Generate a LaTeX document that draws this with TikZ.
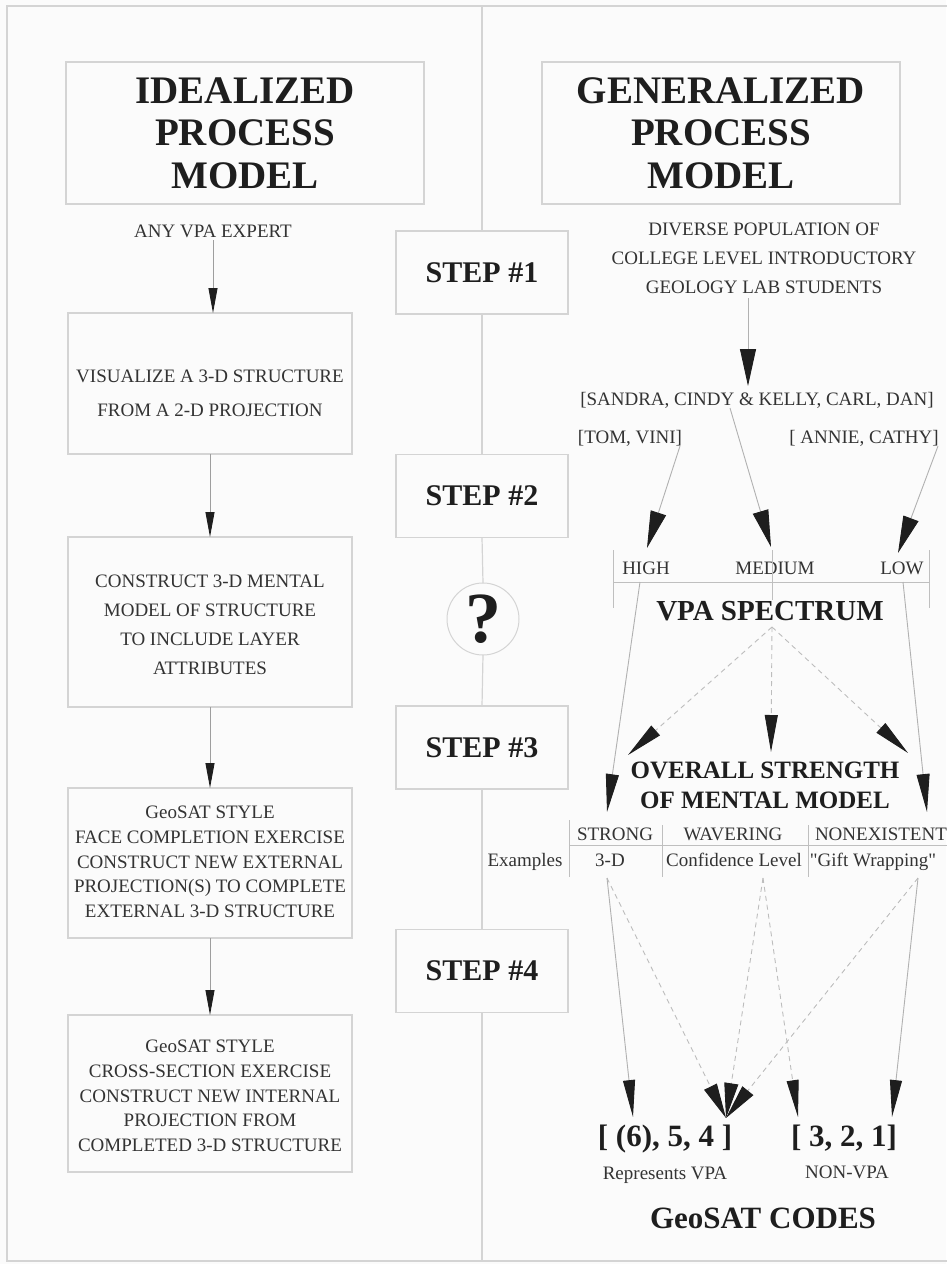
\documentclass[tikz,border=0pt]{standalone}
\usepackage{fontspec}
\setmainfont{Liberation Serif}[Ligatures=TeXOff]
\usetikzlibrary{arrows.meta}
\definecolor{ink}{HTML}{333333}
\definecolor{heavy}{HTML}{1E1E1E}
\definecolor{rule}{HTML}{D4D4D4}
\definecolor{wire}{HTML}{9E9E9E}
\definecolor{dashc}{HTML}{BDBDBD}
\definecolor{paper}{HTML}{FBFBFB}
\begin{document}
\begin{tikzpicture}[x=1pt,y=-1pt,
  every node/.style={inner sep=0pt, outer sep=0pt},
  box/.style={draw=rule, line width=1.3pt, rectangle},
  body/.style={text=ink, align=center, font=\fontsize{19}{24.75}\selectfont},
  txt/.style={text=ink, anchor=base, font=\fontsize{19}{23}\selectfont},
  title/.style={text=heavy, align=center, font=\fontsize{39}{42.5}\selectfont\bfseries},
  bold/.style={text=heavy, anchor=base, font=\fontsize{#1}{#1}\selectfont\bfseries},
  stepbox/.style={box, minimum width=172pt, minimum height=83pt, text=heavy,
    font=\fontsize{30}{36}\selectfont\bfseries},
  frame/.style={draw=rule, line width=1.4pt},
  lflow/.style={draw=wire, line width=0.9pt, -{Triangle[length=25pt,width=9pt,color=heavy]}},
  bigarrow/.style={draw=wire!80, line width=0.9pt, -{Triangle[length=37pt,width=16pt,color=heavy]}},
  longarrow/.style={draw=wire!80, line width=0.9pt, -{Triangle[length=38pt,width=13pt,color=heavy]}},
  dasharrow/.style={draw=dashc, line width=0.9pt, dash pattern=on 5pt off 4pt,
    -{Triangle[length=37pt,width=13pt,color=heavy]}},
  tick/.style={draw=rule!90!black, line width=1pt}
]
\fill[paper] (0,0) rectangle (946,1264);
\useasboundingbox (0,0) rectangle (946,1264);

% outer frame
\draw[frame] (960,6) -- (7,6) -- (7,1261) -- (960,1261);

% ---------- headings ----------
\node[box, title, minimum width=358pt, minimum height=142pt] (tl) at (245,133)
  {IDEALIZED\\PROCESS\\MODEL};
\node[box, title, minimum width=358pt, minimum height=142pt] (tr) at (721,133)
  {GENERALIZED\\PROCESS\\MODEL};

% ---------- idealized column ----------
\node[txt] (expert) at (213,237) {ANY VPA EXPERT};
\node[box, minimum width=284pt, minimum height=141pt] (b1) at (210,383.5) {};
\node[body, font=\fontsize{19}{34}\selectfont] (t1) at (210,393)
  {VISUALIZE A 3-D STRUCTURE\\FROM A 2-D PROJECTION};
\node[box, minimum width=284pt, minimum height=170pt] (b2) at (210,622) {};
\node[body, font=\fontsize{19}{29}\selectfont] (t2) at (210,625)
  {CONSTRUCT 3-D MENTAL\\MODEL OF STRUCTURE\\TO INCLUDE LAYER\\ATTRIBUTES};
\node[box, minimum width=284pt, minimum height=150pt] (b3) at (210,863) {};
\node[body] (t3) at (210,862)
  {GeoSAT STYLE\\FACE COMPLETION EXERCISE\\CONSTRUCT NEW EXTERNAL\\PROJECTION(S) TO COMPLETE\\EXTERNAL 3-D STRUCTURE};
\node[box, minimum width=284pt, minimum height=157pt] (b4) at (210,1093.5) {};
\node[body] (t4) at (210,1096)
  {GeoSAT STYLE\\CROSS-SECTION EXERCISE\\CONSTRUCT NEW INTERNAL\\PROJECTION FROM\\COMPLETED 3-D STRUCTURE};

\draw[lflow] ([yshift=-3pt]expert.south) -- (expert.south |- b1.north);
\draw[lflow] (b1.south) -- (b2.north);
\draw[lflow] (b2.south) -- (b3.north);
\draw[lflow] (b3.south) -- (b4.north);

% ---------- steps along the divider ----------
\coordinate (divtop) at (482,6);
\coordinate (divbot) at (482,1261);
\node[stepbox] (s1) at (482,272.5) {STEP \#1};
\node[stepbox] (s2) at (482,496) {STEP \#2};
\node[circle, draw=rule, line width=1pt, minimum size=72pt, text=heavy,
  font=\fontsize{72}{72}\selectfont\bfseries] (q) at (483,619) {?};
\node[stepbox] (s3) at (482,747.5) {STEP \#3};
\node[stepbox] (s4) at (482,971) {STEP \#4};
\draw[frame, line width=1.2pt] (divtop) -- (s1.north);
\draw[frame, line width=1.2pt] (s1.south) -- (s2.north);
\draw[frame, line width=1.2pt] (s2.south) -- (q.north);
\draw[frame, line width=1.2pt] (q.south) -- (s3.north);
\draw[frame, line width=1.2pt] (s3.south) -- (s4.north);
\draw[frame, line width=1.2pt] (s4.south) -- (divbot);

% ---------- generalized column ----------
\node[body, font=\fontsize{19}{29}\selectfont] (pop) at (764,258)
  {DIVERSE POPULATION OF\\COLLEGE LEVEL INTRODUCTORY\\GEOLOGY LAB STUDENTS};
\node[txt] (sandra) at (757,405) {[SANDRA, CINDY \& KELLY, CARL, DAN]};
\node[txt] (tom) at (630,443) {[TOM, VINI]};
\node[txt] (annie) at (864,443) {[ ANNIE, CATHY]};

\coordinate (popout) at (748,298);
\coordinate (sandrain) at (748,386);
\draw[bigarrow] (popout) -- (sandrain);

% spectrum scale
\node[txt] (high) at (646,574) {HIGH};
\node[txt] (medium) at (775,574) {MEDIUM};
\node[txt] (low) at (902,574) {LOW};
\coordinate (specL) at (613,582);
\coordinate (specR) at (929,582);
\coordinate (specM) at (772,582);
\draw[tick] (specL) -- (specR);
\draw[tick] ([yshift=32pt]specL) -- ([yshift=-26pt]specL);
\draw[tick] ([yshift=32pt]specR) -- ([yshift=-26pt]specR);
\draw[tick] ([yshift=32pt]specM) -- ([yshift=-18pt]specM);
\node[bold=29] (vpa) at (770,620) {VPA SPECTRUM};

\coordinate (tomout) at (680,446);
\coordinate (highin) at (647,548);
\coordinate (cindyout) at (730,408);
\coordinate (medin) at (771,547);
\coordinate (annieout) at (938,446);
\coordinate (lowin) at (898,553);
\draw[bigarrow] (tomout) -- (highin);
\draw[bigarrow] (cindyout) -- (medin);
\draw[bigarrow] (annieout) -- (lowin);

% strength of mental model
\node[text=heavy, align=center, font=\fontsize{25}{30}\selectfont\bfseries] (overall) at (765,785)
  {OVERALL STRENGTH\\OF MENTAL MODEL};
\coordinate (highout) at (640,582);
\coordinate (strongin) at (607,812);
\coordinate (lowout) at (903,582);
\coordinate (nonin) at (927,812);
\draw[longarrow] (highout) -- (strongin);
\draw[longarrow] (lowout) -- (nonin);
\coordinate (vpaout) at (772,627);
\coordinate (ovL) at (628,755);
\coordinate (ovM) at (771,752);
\coordinate (ovR) at (908,753);
\draw[dasharrow] (vpaout) -- (ovL);
\draw[dasharrow] (vpaout) -- (ovM);
\draw[dasharrow] (vpaout) -- (ovR);

% strength table
\node[txt] (strong) at (615,840) {STRONG};
\node[txt] (wavering) at (733,840) {WAVERING};
\node[txt, anchor=base west] (nonex) at (815,840) {NONEXISTENT};
\node[txt] (examples) at (525,866) {Examples};
\node[txt] (threed) at (610,866) {3-D};
\node[txt] (conf) at (734,866) {Confidence Level};
\node[txt] (gift) at (873,866) {"Gift Wrapping"};
\draw[tick] (569,820) -- (569,877);
\draw[tick] (662,825) -- (662,877);
\draw[tick] (808,825) -- (808,877);
\draw[tick] (569,845) -- (960,845);

% GeoSAT codes
\node[bold=31] (codeA) at (665,1146) {[ (6), 5, 4 ]};
\node[bold=31] (codeB) at (844,1146) {[ 3, 2, 1]};
\node[txt] (repr) at (665,1179) {Represents VPA};
\node[txt] (nonvpa) at (847,1178) {NON-VPA};
\node[bold=31] (codes) at (763,1228) {GeoSAT CODES};

\coordinate (tdout) at (607,878);
\coordinate (cfout) at (763,878);
\coordinate (gfout) at (918,878);
\coordinate (sixin) at (633,1117);
\coordinate (fanin) at (726,1118);
\coordinate (threein) at (798,1117);
\coordinate (onein) at (892,1117);
\draw[dasharrow, -{Triangle[length=35pt,width=14pt,color=heavy]}] (tdout) -- (fanin);
\draw[dasharrow, -{Triangle[length=35pt,width=14pt,color=heavy]}] (cfout) -- (fanin);
\draw[dasharrow, -{Triangle[length=35pt,width=14pt,color=heavy]}] (gfout) -- (fanin);
\draw[dasharrow, -{Triangle[length=37pt,width=12pt,color=heavy]}] (cfout) -- (threein);
\draw[longarrow, -{Triangle[length=37pt,width=12pt,color=heavy]}] (tdout) -- (sixin);
\draw[longarrow, -{Triangle[length=37pt,width=12pt,color=heavy]}] (gfout) -- (onein);
\end{tikzpicture}
\end{document}
